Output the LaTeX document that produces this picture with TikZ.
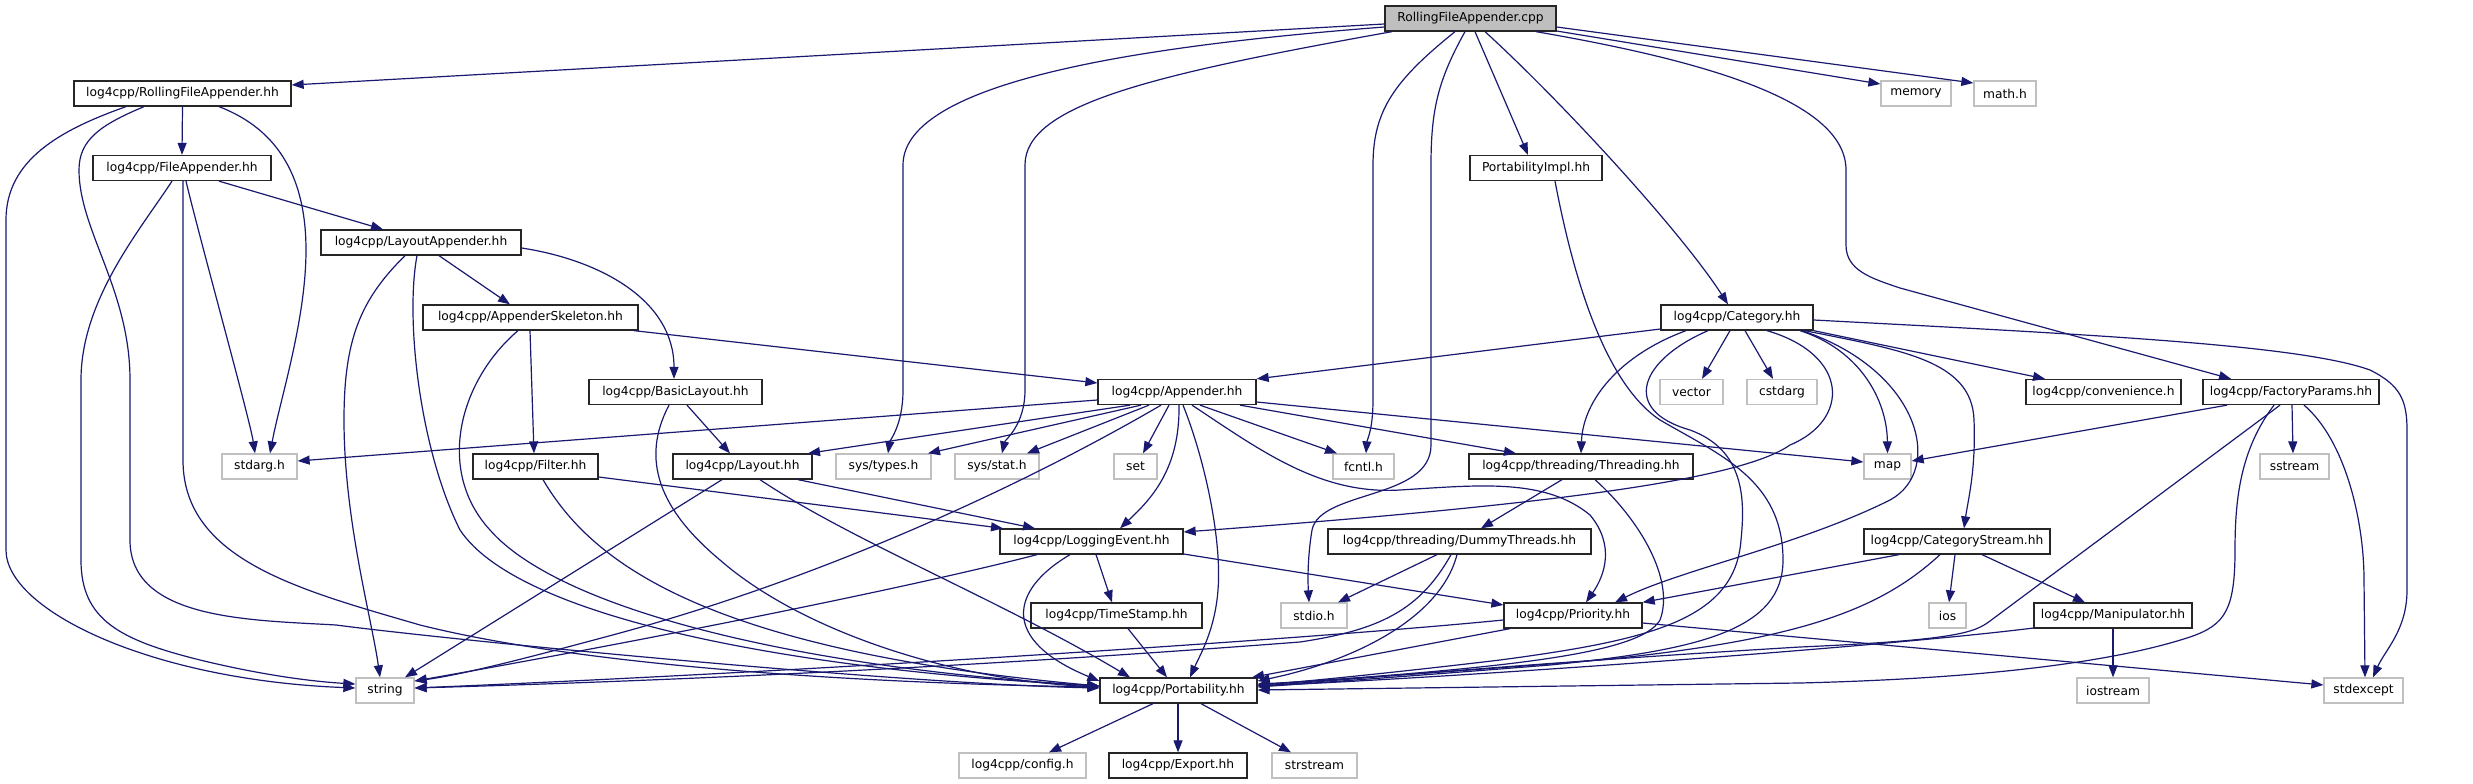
\documentclass[tikz,border=0pt]{standalone}
\usepackage{fontspec}
\setmainfont{DejaVu Sans}
\usetikzlibrary{arrows.meta}
\definecolor{edgeblue}{HTML}{191970}
\definecolor{grayline}{HTML}{C0C0C0}
\definecolor{topfill}{HTML}{BFBFBF}
\begin{document}
\begin{tikzpicture}[x=1bp,y=-1bp,
  sys/.style={draw=grayline, line width=1.3bp, minimum height=25bp, inner sep=0pt, fill=white,
    font=\fontsize{12.3pt}{14pt}\selectfont},
  hdr/.style={sys, draw=black!85},
  edge/.style={draw=edgeblue, line width=1.2bp, -{Triangle[length=12bp,width=9bp]}}]
\useasboundingbox (0,0) rectangle (2473,784);
\fill[white] (0,0) rectangle (2473,784);
% nodes
\node[hdr, fill=topfill, minimum width=171bp] (cpp) at (1470.5,18.5) {RollingFileAppender.cpp};
\node[hdr, minimum width=217bp] (rfahh) at (182.5,93.5) {log4cpp/RollingFileAppender.hh};
\node[sys, minimum width=70bp] (memory) at (1916,93.5) {memory};
\node[sys, minimum width=62bp] (math) at (2005,93.5) {math.h};
\node[hdr, minimum width=178bp] (fahh) at (182,168) {log4cpp/FileAppender.hh};
\node[hdr, minimum width=132bp] (pimpl) at (1536,168) {PortabilityImpl.hh};
\node[hdr, minimum width=200bp] (lahh) at (421,242.5) {log4cpp/LayoutAppender.hh};
\node[hdr, minimum width=215bp] (ask) at (530.5,317.5) {log4cpp/AppenderSkeleton.hh};
\node[hdr, minimum width=152bp] (cat) at (1737,317.5) {log4cpp/Category.hh};
\node[hdr, minimum width=173bp] (basic) at (675.5,392) {log4cpp/BasicLayout.hh};
\node[hdr, minimum width=158bp] (app) at (1177,392) {log4cpp/Appender.hh};
\node[sys, minimum width=63bp] (vector) at (1691.5,392) {vector};
\node[sys, minimum width=70bp] (cstdarg) at (1782,392) {cstdarg};
\node[hdr, minimum width=155bp] (conv) at (2103.5,392) {log4cpp/convenience.h};
\node[hdr, minimum width=176bp] (fact) at (2291,392) {log4cpp/FactoryParams.hh};
\node[sys, minimum width=75bp] (stdarg) at (259.5,466.5) {stdarg.h};
\node[hdr, minimum width=125bp] (filter) at (535.5,466.5) {log4cpp/Filter.hh};
\node[hdr, minimum width=139bp] (layout) at (742.5,466.5) {log4cpp/Layout.hh};
\node[sys, minimum width=95bp] (systypes) at (883.5,466.5) {sys/types.h};
\node[sys, minimum width=84bp] (sysstat) at (997,466.5) {sys/stat.h};
\node[sys, minimum width=43bp] (set) at (1135.5,466.5) {set};
\node[sys, minimum width=61bp] (fcntl) at (1363.5,466.5) {fcntl.h};
\node[hdr, minimum width=224bp] (thr) at (1581,466.5) {log4cpp/threading/Threading.hh};
\node[sys, minimum width=47bp] (map) at (1887.5,466.5) {map};
\node[sys, minimum width=69bp] (sstream) at (2294.5,466.5) {sstream};
\node[hdr, minimum width=183bp] (logev) at (1091.5,541.5) {log4cpp/LoggingEvent.hh};
\node[hdr, minimum width=263bp] (dummy) at (1459.5,541.5) {log4cpp/threading/DummyThreads.hh};
\node[hdr, minimum width=186bp] (catstream) at (1957,541.5) {log4cpp/CategoryStream.hh};
\node[hdr, minimum width=171bp] (ts) at (1116.5,615.5) {log4cpp/TimeStamp.hh};
\node[sys, minimum width=66bp] (stdio) at (1314,615.5) {stdio.h};
\node[hdr, minimum width=138bp] (prio) at (1573,615.5) {log4cpp/Priority.hh};
\node[sys, minimum width=37bp] (ios) at (1947.5,615.5) {ios};
\node[hdr, minimum width=158bp] (manip) at (2113,615.5) {log4cpp/Manipulator.hh};
\node[sys, minimum width=58bp] (string) at (385,690.5) {string};
\node[hdr, minimum width=157bp] (port) at (1178.5,690.5) {log4cpp/Portability.hh};
\node[sys, minimum width=72bp] (iostream) at (2113,690.5) {iostream};
\node[sys, minimum width=79bp] (stdexcept) at (2363.5,690.5) {stdexcept};
\node[sys, minimum width=127bp] (config) at (1022.5,765.5) {log4cpp/config.h};
\node[hdr, minimum width=138bp] (export) at (1178,765.5) {log4cpp/Export.hh};
\node[sys, minimum width=85bp] (strstream) at (1314.5,765.5) {strstream};
% edges from cpp
\draw[edge] (cpp.west |- 0,24) -- (rfahh.east |- 0,85);
\draw[edge] (cpp.west |- 0,27) .. controls (1150,45) and (903,80) .. (903,165) -- (903,390) .. controls (903,425) and (890,440) .. (systypes.north -| 888,0);
\draw[edge] (cpp.south -| 1392,0) .. controls (1150,75) and (1025,105) .. (1025,165) -- (1025,390) .. controls (1025,425) and (1005,440) .. (sysstat.north -| 1002,0);
\draw[edge] (cpp.south -| 1455,0) .. controls (1395,80) and (1373,110) .. (1373,165) -- (1373,400) .. controls (1373,430) and (1367,440) .. (fcntl.north -| 1366,0);
\draw[edge] (cpp.south -| 1465,0) .. controls (1438,80) and (1431,110) .. (1431,165) -- (1431,445) .. controls (1431,500) and (1320,490) .. (1312,530) .. controls (1307,560) and (1308,585) .. (stdio.north -| 1309,0);
\draw[edge] (cpp.south -| 1475,0) -- (pimpl.north -| 1528,0);
\draw[edge] (cpp.south -| 1485,0) .. controls (1560,100) and (1680,230) .. (cat.north -| 1728,0);
\draw[edge] (cpp.east |- 0,31) -- (memory.west |- 0,84);
\draw[edge] (cpp.east |- 0,27) -- (math.west |- 0,83);
\draw[edge] (cpp.south -| 1536,0) .. controls (1700,60) and (1846,100) .. (1846,170) -- (1846,245) .. controls (1846,270) and (1870,278) .. (1900,288) -- (fact.north -| 2231,0);
% RollingFileAppender.hh
\draw[edge] (rfahh.south) -- (fahh.north);
\draw[edge] (rfahh.south -| 126,0) .. controls (60,130) and (6,160) .. (6,220) -- (6,550) .. controls (6,610) and (150,680) .. (string.west |- 0,688);
\draw[edge] (rfahh.south -| 144,0) .. controls (100,125) and (79,140) .. (79,170) .. controls (79,230) and (130,290) .. (130,380) -- (130,540) .. controls (130,620) and (250,620) .. (336,625) .. controls (450,640) and (900,684) .. (port.west |- 0,688);
\draw[edge] (rfahh.south -| 219,0) .. controls (280,130) and (306,180) .. (306,250) .. controls (306,320) and (280,400) .. (stdarg.north -| 270,0);
% FileAppender.hh
\draw[edge] (fahh.south -| 172,0) .. controls (140,230) and (81,300) .. (81,380) -- (81,560) .. controls (81,620) and (120,640) .. (200,660) .. controls (270,677) and (320,682) .. (string.west |- 0,684);
\draw[edge] (fahh.south -| 183,0) -- (183,460) .. controls (183,560) and (300,590) .. (420,625) .. controls (600,670) and (900,684) .. (port.west |- 0,687);
\draw[edge] (fahh.south -| 186,0) .. controls (200,240) and (250,420) .. (stdarg.north -| 255,0);
\draw[edge] (fahh.south -| 219,0) -- (lahh.north -| 383,0);
% LayoutAppender.hh
\draw[edge] (lahh.south -| 405,0) .. controls (360,300) and (344,340) .. (344,420) .. controls (344,520) and (372,620) .. (string.north -| 380,0);
\draw[edge] (lahh.south -| 417,0) .. controls (405,320) and (420,450) .. (460,530) .. controls (520,620) and (800,670) .. (port.west |- 0,686);
\draw[edge] (lahh.south -| 439,0) -- (ask.north -| 510,0);
\draw[edge] (lahh.east |- 0,248) .. controls (600,260) and (674,300) .. (basic.north -| 674,0);
% AppenderSkeleton.hh
\draw[edge] (ask.south -| 634,0) -- (app.west |- 0,383);
\draw[edge] (ask.south -| 530,0) -- (filter.north -| 534,0);
\draw[edge] (ask.south -| 518,0) .. controls (460,380) and (435,470) .. (490,530) .. controls (560,610) and (800,668) .. (port.west |- 0,686);
% BasicLayout, Filter, Layout
\draw[edge] (basic.south -| 687,0) -- (layout.north -| 730,0);
\draw[edge] (basic.south -| 669,0) .. controls (640,460) and (660,510) .. (720,560) .. controls (800,630) and (950,680) .. (port.west |- 0,687);
\draw[edge] (filter.east |- 0,477) -- (logev.north -| 1003,0);
\draw[edge] (filter.south -| 543,0) .. controls (590,560) and (700,650) .. (port.west |- 0,686);
\draw[edge] (layout.south -| 722,0) -- (string.north -| 405,0);
\draw[edge] (layout.south -| 760,0) .. controls (850,540) and (1000,600) .. (port.north -| 1130,0);
\draw[edge] (layout.south -| 798,0) -- (logev.north -| 1035,0);
% Appender.hh
\draw[edge] (app.west |- 0,400) -- (stdarg.east |- 0,461);
\draw[edge] (app.south -| 1130,0) -- (layout.north -| 808,0);
\draw[edge] (app.south -| 1141,0) -- (systypes.north -| 928,0);
\draw[edge] (app.south -| 1149,0) -- (sysstat.north -| 1027,0);
\draw[edge] (app.south -| 1169,0) -- (set.north -| 1143,0);
\draw[edge] (app.south -| 1161,0) .. controls (1050,470) and (850,570) .. (620,633) .. controls (520,660) and (460,675) .. (string.east |- 0,681);
\draw[edge] (app.south -| 1183,0) .. controls (1205,460) and (1222,540) .. (1218,590) .. controls (1215,630) and (1200,655) .. (port.north -| 1190,0);
\draw[edge] (app.south -| 1179,0) .. controls (1180,470) and (1150,500) .. (logev.north -| 1120,0);
\draw[edge] (app.south -| 1200,0) -- (fcntl.north -| 1337,0);
\draw[edge] (app.south -| 1240,0) -- (thr.north -| 1516,0);
\draw[edge] (app.east |- 0,402) -- (map.west |- 0,462);
\draw[edge] (app.south -| 1192,0) .. controls (1260,450) and (1320,495) .. (1400,490) .. controls (1480,485) and (1545,478) .. (1590,515) .. controls (1615,545) and (1605,575) .. (prio.north -| 1586,0);
% Category.hh
\draw[edge] (cat.west |- 0,329) -- (app.north east);
\draw[edge] (cat.south -| 1730,0) -- (vector.north -| 1702,0);
\draw[edge] (cat.south -| 1745,0) -- (cstdarg.north -| 1773,0);
\draw[edge] (cat.south -| 1686,0) .. controls (1620,355) and (1583,400) .. (thr.north -| 1581,0);
\draw[edge] (cat.south -| 1708,0) .. controls (1640,360) and (1620,410) .. (1690,430) .. controls (1745,450) and (1745,500) .. (1741,540) .. controls (1735,620) and (1650,640) .. (1500,660) .. controls (1400,672) and (1300,682) .. (port.east |- 0,685);
\draw[edge] (cat.south -| 1767,0) .. controls (1850,355) and (1850,420) .. (1790,445) .. controls (1740,480) and (1550,505) .. (logev.east |- 0,532);
\draw[edge] (cat.south -| 1800,0) .. controls (1860,350) and (1887,400) .. (map.north);
\draw[edge] (cat.south -| 1805,0) .. controls (1900,350) and (1972,360) .. (1974,420) .. controls (1976,470) and (1968,500) .. (catstream.north -| 1964,0);
\draw[edge] (cat.south -| 1802,0) .. controls (1920,370) and (1945,470) .. (1890,500) .. controls (1800,545) and (1680,570) .. (prio.north -| 1615,0);
\draw[edge] (cat.south east) -- (conv.north -| 2045,0);
\draw[edge] (cat.east |- 0,320) .. controls (2100,335) and (2300,345) .. (2370,370) .. controls (2400,385) and (2407,400) .. (2407,430) -- (2407,590) .. controls (2407,630) and (2385,650) .. (stdexcept.north -| 2373,0);
% PortabilityImpl
\draw[edge] (pimpl.south -| 1555,0) .. controls (1570,260) and (1600,380) .. (1660,420) .. controls (1720,455) and (1783,480) .. (1783,560) .. controls (1783,630) and (1700,650) .. (1550,665) .. controls (1400,677) and (1300,684) .. (port.east |- 0,687);
% FactoryParams
\draw[edge] (fact.south -| 2227,0) -- (map.east |- 0,461);
\draw[edge] (fact.south -| 2292,0) -- (sstream.north -| 2293,0);
\draw[edge] (fact.south -| 2304,0) .. controls (2345,440) and (2364,520) .. (2364,580) -- (stdexcept.north -| 2365,0);
\draw[edge] (fact.south -| 2274,0) .. controls (2240,450) and (2235,500) .. (2235,550) .. controls (2235,610) and (2225,625) .. (2190,637) .. controls (2120,660) and (2000,678) .. (1800,683) -- (port.east |- 0,690);
\draw[edge] (fact.south -| 2280,0) -- (1990,621) .. controls (1975,632) and (1960,640) .. (1800,647) .. controls (1500,665) and (1350,680) .. (port.east |- 0,686);
% LoggingEvent, TimeStamp
\draw[edge] (logev.south -| 1037,0) .. controls (900,590) and (620,645) .. (string.east |- 0,681);
\draw[edge] (logev.south -| 1070,0) .. controls (1010,590) and (1000,640) .. (port.west |- 0,681);
\draw[edge] (logev.south -| 1096,0) -- (ts.north -| 1112,0);
\draw[edge] (logev.east |- 0,554) -- (prio.west |- 0,605);
\draw[edge] (ts.south -| 1128,0) -- (port.north -| 1167,0);
% Threading, DummyThreads
\draw[edge] (thr.south -| 1562,0) -- (dummy.north -| 1481,0);
\draw[edge] (thr.south -| 1595,0) .. controls (1640,520) and (1675,580) .. (1660,620) .. controls (1640,655) and (1500,668) .. (port.east |- 0,685);
\draw[edge] (dummy.south -| 1437,0) -- (stdio.north -| 1338,0);
\draw[edge] (dummy.south -| 1451,0) .. controls (1420,610) and (1380,630) .. (1300,642) .. controls (1000,665) and (700,680) .. (string.east |- 0,688);
\draw[edge] (dummy.south -| 1457,0) .. controls (1440,620) and (1350,662) .. (port.east |- 0,681);
% Priority
\draw[edge] (prio.west |- 0,620) .. controls (1300,640) and (800,672) .. (string.east |- 0,688);
\draw[edge] (prio.south -| 1510,0) -- (port.north -| 1252,0);
\draw[edge] (prio.east |- 0,623) -- (stdexcept.west |- 0,685);
% CategoryStream, Manipulator
\draw[edge] (catstream.south -| 1899,0) -- (prio.north east);
\draw[edge] (catstream.south -| 1955,0) -- (ios.north -| 1949,0);
\draw[edge] (catstream.south -| 1982,0) -- (manip.north -| 2085,0);
\draw[edge] (catstream.south -| 1940,0) .. controls (1880,610) and (1800,640) .. (1600,660) .. controls (1450,672) and (1300,682) .. (port.east |- 0,684);
\draw[edge] (manip.south) -- (iostream.north);
\draw[edge] (manip.west |- 0,628) .. controls (1900,645) and (1500,675) .. (port.east |- 0,686);
% Portability
\draw[edge] (port.south -| 1153,0) -- (config.north -| 1049,0);
\draw[edge] (port.south -| 1178,0) -- (export.north);
\draw[edge] (port.south -| 1201,0) -- (strstream.north -| 1291,0);
\end{tikzpicture}
\end{document}
